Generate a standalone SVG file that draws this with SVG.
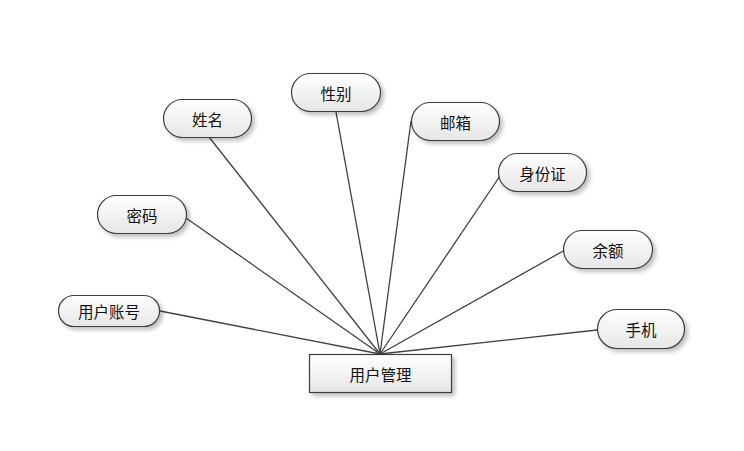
<svg xmlns="http://www.w3.org/2000/svg" width="744" height="451" viewBox="0 0 744 451">
<defs>
<linearGradient id="g" x1="0" y1="0" x2="0" y2="1">
<stop offset="0" stop-color="#ffffff"/>
<stop offset="1" stop-color="#e6e6e6"/>
</linearGradient>
<filter id="sh" x="-20%" y="-30%" width="150%" height="170%">
<feGaussianBlur in="SourceAlpha" stdDeviation="2"/>
<feOffset dx="3" dy="3" result="b"/>
<feComponentTransfer><feFuncA type="linear" slope="0.25"/></feComponentTransfer>
<feMerge><feMergeNode/><feMergeNode in="SourceGraphic"/></feMerge>
</filter>
</defs>
<style>
.n{fill:url(#g);stroke:#3c3c3c;stroke-width:1.2;filter:url(#sh)}
.t{font-family:"Microsoft YaHei","Noto Sans CJK SC",sans-serif;font-size:15.5px;fill:#111;text-anchor:middle;dominant-baseline:central}
.c line{stroke:#404040;stroke-width:1.3}
</style>
<rect width="744" height="451" fill="#fff"/>
<g class="c">
<line x1="380" y1="354" x2="160" y2="311"/>
<line x1="380" y1="354" x2="186" y2="218"/>
<line x1="380" y1="354" x2="209" y2="137"/>
<line x1="380" y1="354" x2="336" y2="112"/>
<line x1="380" y1="354" x2="411" y2="121"/>
<line x1="380" y1="354" x2="500" y2="176"/>
<line x1="380" y1="354" x2="565" y2="250"/>
<line x1="380" y1="354" x2="597" y2="330"/>
</g>
<g id="yhgl"><rect class="n" x="309.5" y="354.5" width="142" height="38" rx="0"/><text class="t" x="380.5" y="374">用户管理</text></g>
<g id="yhzh"><rect class="n" x="58.5" y="295.5" width="101" height="31" rx="15.5"/><text class="t" x="109" y="311">用户账号</text></g>
<g id="mm"><rect class="n" x="97.5" y="195.5" width="89" height="38" rx="19"/><text class="t" x="142" y="214.5">密码</text></g>
<g id="xm"><rect class="n" x="163.5" y="99.5" width="88" height="38" rx="19"/><text class="t" x="207.5" y="118.5">姓名</text></g>
<g id="xb"><rect class="n" x="291.5" y="73.5" width="89" height="38" rx="19"/><text class="t" x="336" y="92.5">性别</text></g>
<g id="yx"><rect class="n" x="411.5" y="102.5" width="88" height="38" rx="19"/><text class="t" x="455.5" y="121.5">邮箱</text></g>
<g id="sfz"><rect class="n" x="498.5" y="153.5" width="88" height="38" rx="19"/><text class="t" x="542.5" y="172.5">身份证</text></g>
<g id="ye"><rect class="n" x="563.5" y="230.5" width="89" height="38" rx="19"/><text class="t" x="608" y="249.5">余额</text></g>
<g id="sj"><rect class="n" x="597.5" y="309.5" width="87" height="39" rx="19.5"/><text class="t" x="641" y="329">手机</text></g>
</svg>
